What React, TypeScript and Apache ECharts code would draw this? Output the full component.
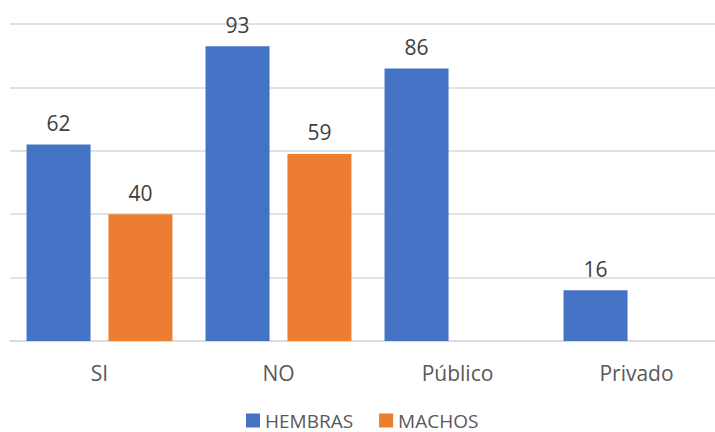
import React, { useEffect, useRef } from "react";
import * as echarts from "echarts";

const categories = ["SI", "NO", "Público", "Privado"];
const hembras = [62, 93, 86, 16];
const machos: (number | null)[] = [40, 59, null, null];
const seriesNames = ["HEMBRAS", "MACHOS"];

const FONT = "'Open Sans', 'Noto Sans', sans-serif";

export default function App() {
  const ref = useRef<HTMLDivElement>(null);
  useEffect(() => {
    if (!ref.current) return;
    const chart = echarts.init(ref.current, undefined, { renderer: "svg" });
    const label = {
      show: true,
      position: "top" as const,
      distance: 11,
      color: "#404040",
      fontSize: 21,
      fontFamily: FONT,
    };
    chart.setOption({
      animation: false,
      backgroundColor: "#ffffff",
      grid: { left: 10, top: 24, bottom: 91, width: 716, containLabel: false },
      legend: {
        data: seriesNames,
        left: 241,
        top: 406,
        itemWidth: 14,
        itemHeight: 14,
        itemGap: 26,
        icon: "rect",
        textStyle: { color: "#595959", fontSize: 19, fontFamily: FONT },
      },
      xAxis: {
        type: "category",
        data: categories,
        axisLine: { lineStyle: { color: "#D9D9D9", width: 1.5 } },
        axisTick: { show: false },
        axisLabel: { color: "#595959", fontSize: 21, fontFamily: FONT, margin: 21 },
      },
      yAxis: {
        type: "value",
        min: 0,
        max: 100,
        interval: 20,
        axisLabel: { show: false },
        axisLine: { show: false },
        axisTick: { show: false },
        splitLine: { lineStyle: { color: "#D9D9D9", width: 1.5 } },
      },
      series: [
        {
          name: seriesNames[0],
          type: "bar",
          data: hembras,
          barWidth: 64,
          barGap: "28%",
          itemStyle: { color: "#4472C4" },
          label,
        },
        {
          name: seriesNames[1],
          type: "bar",
          data: machos,
          barWidth: 64,
          barGap: "28%",
          itemStyle: { color: "#ED7D31" },
          label,
        },
      ],
    });
    return () => chart.dispose();
  }, []);
  return (
    <div style={{ width: 715, height: 432, position: "absolute", left: 0, top: 0, overflow: "hidden" }}>
      <div ref={ref} style={{ width: 740, height: 432 }} />
    </div>
  );
}
